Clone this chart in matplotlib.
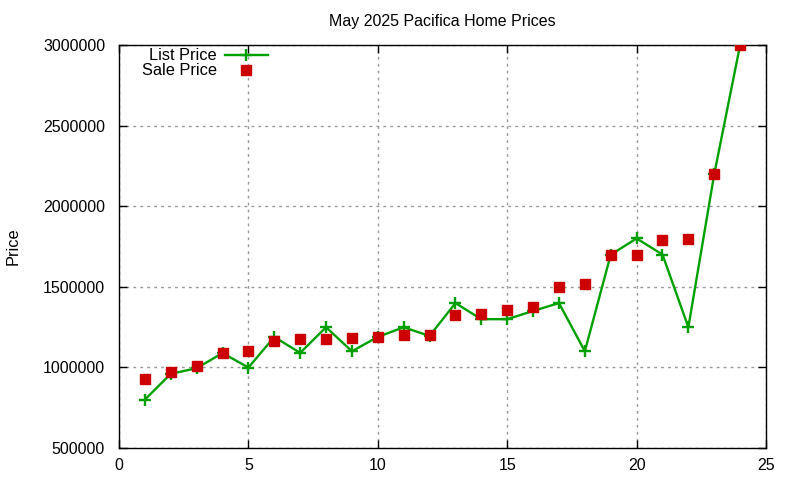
import matplotlib
matplotlib.use('Agg')
import matplotlib.pyplot as plt

plt.rcParams['font.family'] = ['Liberation Sans', 'DejaVu Sans']

# data
homes = list(range(1, 25))
list_price = [800000, 960000, 995000, 1089000, 999000, 1189000, 1090000, 1249000,
              1100000, 1189000, 1249000, 1195000, 1399000, 1299000, 1299000, 1350000,
              1399000, 1100000, 1699000, 1800000, 1700000, 1249000, 2199000, 3000000]
sale_price = [930000, 970000, 1010000, 1090000, 1100000, 1165000, 1175000, 1177000,
              1185000, 1188000, 1200000, 1200000, 1325000, 1330000, 1355000, 1375000,
              1500000, 1520000, 1700000, 1700000, 1790000, 1795000, 2200000, 3000000]

fig = plt.figure(figsize=(8, 4.8), dpi=100)
ax = fig.add_axes([0.14875, 0.0667, 0.80875, 0.83955])

ax.plot(homes, list_price, color='#00a000', lw=1.7, marker='+', ms=9, mew=1.7,
        label='List Price', zorder=3)
ax.plot(homes, sale_price, ls='none', color='#cc0000', marker='s', ms=7,
        label='Sale Price', zorder=4)

ax.set_xlim(0, 25)
ax.set_ylim(500000, 3000000)
ax.set_xticks([0, 5, 10, 15, 20, 25])
ax.set_yticks([500000, 1000000, 1500000, 2000000, 2500000, 3000000])
ax.ticklabel_format(style='plain', axis='y', useOffset=False)
ax.tick_params(direction='in', top=True, right=True, labelsize=11.5, length=6, width=1)
ax.tick_params(axis='y', pad=10)
ax.tick_params(axis='x', pad=7)
for s in ax.spines.values():
    s.set_linewidth(1)

ax.grid(True, color='#999999', ls=(0, (2, 3)), lw=1)
ax.set_axisbelow(True)

ax.set_title('May 2025 Pacifica Home Prices', fontsize=11.5, pad=14)
ax.set_ylabel('Price', fontsize=11.8)
ax.yaxis.set_label_coords(-0.152, 0.5)

ax.legend(loc='upper left', markerfirst=False, frameon=False, fontsize=11.8,
          handlelength=2.6, handletextpad=0.5, borderaxespad=0.0, labelspacing=0.0,
          bbox_to_anchor=(0.025, 1.008))

fig.savefig('out.png', dpi=100)
